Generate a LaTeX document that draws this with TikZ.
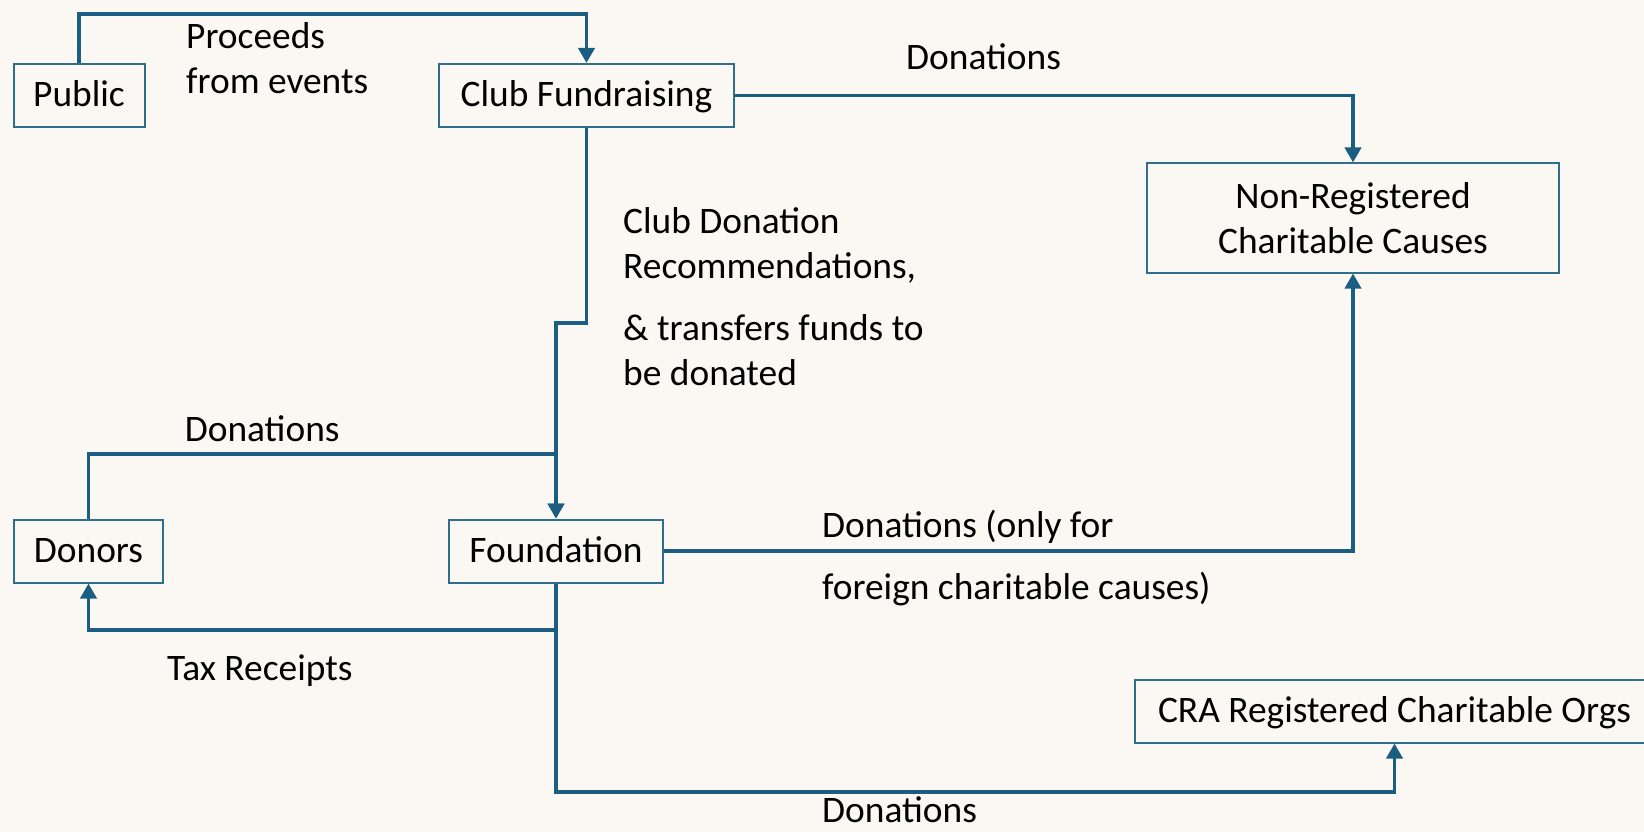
\documentclass[tikz,border=0pt]{standalone}
\usepackage{fontspec}
\setmainfont{Carlito}
\usetikzlibrary{arrows.meta,calc}
\definecolor{bg}{RGB}{251,247,243}
\definecolor{ln}{RGB}{28,94,130}
\definecolor{bx}{RGB}{46,111,143}
\begin{document}
\begin{tikzpicture}[x=1pt,y=-1pt,
  font=\fontsize{37.4pt}{45pt}\selectfont,
  basebox/.style={draw=bx,line width=2pt,inner sep=0pt},
  box/.style={basebox,text height=23pt,text depth=0pt,minimum height=63pt},
  conn/.style={draw=ln,line width=3.8pt},
  arr/.style={conn,-{Triangle[length=15pt,width=16pt]}},
  lbl/.style={anchor=base west,inner sep=0pt}]
\fill[bg] (0,0) rectangle (1644,832);
\useasboundingbox (0,0) rectangle (1644,832);
\clip (0,0) rectangle (1644,832);

% boxes
\node[box,minimum width=131pt] (pub) at (79,95.5) {Public};
\node[box,minimum width=295pt] (cf) at (586.5,95.5) {Club Fundraising};
\node[basebox,minimum width=412pt,minimum height=109pt,align=center] (nr) at (1353,218) {Non-Registered\\Charitable Causes};
\node[box,minimum width=149pt] (don) at (88.5,551) {Donors};
\node[box,minimum width=214pt] (fnd) at (556,551) {Foundation};
\node[box,minimum width=519pt] (cra) at (1394.5,711) {CRA Registered Charitable Orgs};

% helper coordinates
\coordinate (y14) at (0,14);
\coordinate (y323) at (0,323);
\coordinate (y454) at (0,454);
\coordinate (y630) at (0,630);
\coordinate (y792) at (0,792);

% connectors
\draw[arr] (pub.north) -- (pub.north |- y14) -| (cf.north);
\draw[arr] (cf.east) -| (nr.north);
\draw[arr] (cf.south) -- (cf.south |- y323) -| (fnd.north);
\draw[arr] (don.north) |- (fnd.north |- y454) -- (fnd.north);
\draw[arr] (fnd.east) -| (nr.south);
\draw[arr] (fnd.south) |- (don.south |- y630) -- (don.south);
\draw[arr] (fnd.south) |- (cra.south |- y792) -- (cra.south);

% labels
\node[lbl] (l1) at (186,48.5) {Proceeds};
\node[lbl] (l2) at (186,93.3) {from events};
\node[lbl] (l3) at (906,70) {Donations};
\node[lbl] (l4) at (623,233) {Club Donation};
\node[lbl] (l5) at (623,278.5) {Recommendations,};
\node[lbl] (l6) at (623,340) {\& transfers funds to};
\node[lbl] (l7) at (623,385.5) {be donated};
\node[lbl] (l8) at (184.6,441.5) {Donations};
\node[lbl] (l9) at (822,537) {Donations (only for};
\node[lbl] (l10) at (822,599) {foreign charitable causes)};
\node[lbl] (l11) at (166.8,680) {Tax Receipts};
\node[lbl] (l12) at (822,822) {Donations};
\end{tikzpicture}
\end{document}
